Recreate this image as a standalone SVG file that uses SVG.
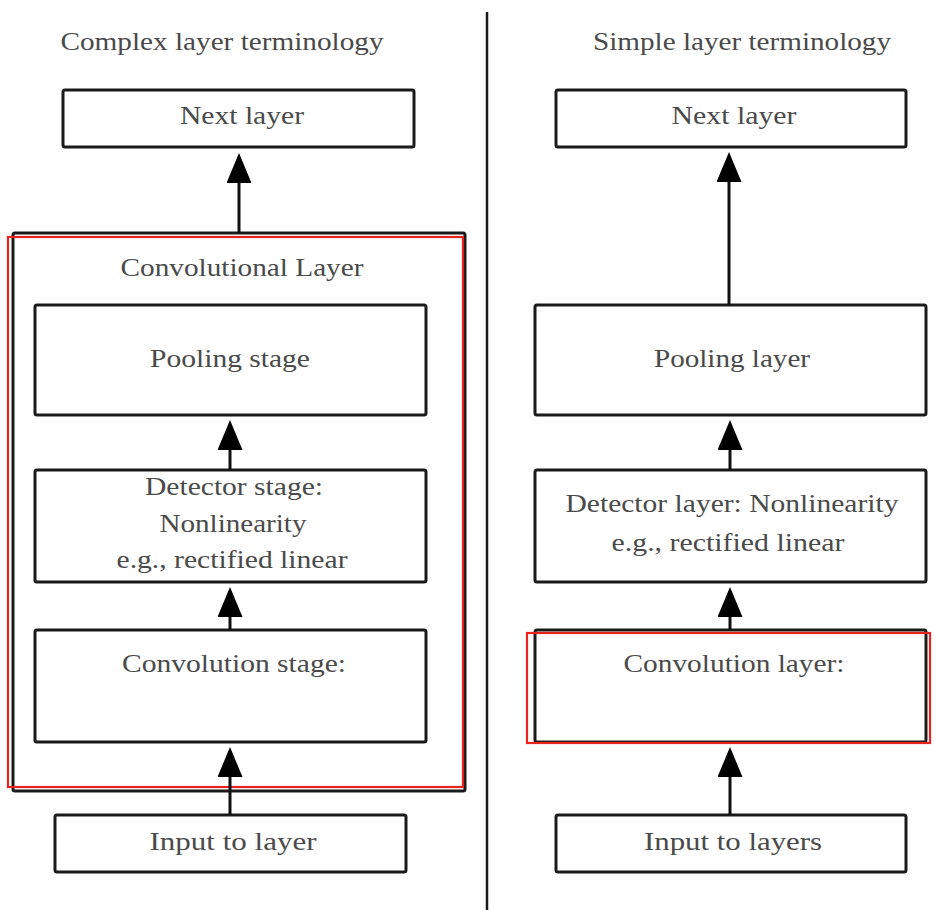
<svg xmlns="http://www.w3.org/2000/svg" width="936" height="910" viewBox="0 0 936 910">
<style>
.box{fill:#fff;stroke:#1a1a1a;stroke-width:3}
.red{fill:none;stroke:#e8231e;stroke-width:2.2}
.t{font-family:"Liberation Serif","DejaVu Serif",serif;font-size:26px;fill:#4a4a4a;text-anchor:middle}
.c{stroke:#111;stroke-width:3;fill:none;marker-end:url(#ah)}
</style>
<defs>
<marker id="ah" markerUnits="userSpaceOnUse" markerWidth="32" markerHeight="26" refX="24" refY="12.5" orient="auto">
<path d="M0,0 L30,12.5 L0,25 z" fill="#000"/>
</marker>
</defs>
<rect width="936" height="910" fill="#fff"/>
<line x1="487" y1="12" x2="487" y2="910" stroke="#1a1a1a" stroke-width="2.5"/>
<text class="t" x="222" y="50" textLength="323" lengthAdjust="spacingAndGlyphs">Complex layer terminology</text>
<text class="t" x="742" y="50" textLength="298" lengthAdjust="spacingAndGlyphs">Simple layer terminology</text>

<g id="conv-layer-group">
<rect class="box" x="13" y="233" width="452" height="558" rx="2"/>
<text class="t" x="242" y="276" textLength="243" lengthAdjust="spacingAndGlyphs">Convolutional Layer</text>
<rect class="red" x="8" y="237" width="455" height="550"/>
</g>

<g id="next-left">
<rect class="box" x="63" y="90" width="351" height="57" rx="2"/>
<text class="t" x="242" y="124" textLength="124" lengthAdjust="spacingAndGlyphs">Next layer</text>
</g>
<g id="pooling-stage">
<rect class="box" x="35" y="305" width="391" height="110" rx="2"/>
<text class="t" x="230" y="367" textLength="160" lengthAdjust="spacingAndGlyphs">Pooling stage</text>
</g>
<g id="detector-stage">
<rect class="box" x="35" y="470" width="391" height="112" rx="2"/>
<text class="t" x="234" y="495" textLength="178" lengthAdjust="spacingAndGlyphs">Detector stage:</text>
<text class="t" x="233" y="532" textLength="147" lengthAdjust="spacingAndGlyphs">Nonlinearity</text>
<text class="t" x="232" y="568" textLength="231" lengthAdjust="spacingAndGlyphs">e.g., rectified linear</text>
</g>
<g id="conv-stage">
<rect class="box" x="35" y="630" width="391" height="112" rx="2"/>
<text class="t" x="234" y="672" textLength="224" lengthAdjust="spacingAndGlyphs">Convolution stage:</text>
</g>
<g id="input-left">
<rect class="box" x="55" y="815" width="351" height="57" rx="2"/>
<text class="t" x="233" y="850" textLength="167" lengthAdjust="spacingAndGlyphs">Input to layer</text>
</g>

<g id="next-right">
<rect class="box" x="556" y="90" width="350" height="57" rx="2"/>
<text class="t" x="734" y="124" textLength="125" lengthAdjust="spacingAndGlyphs">Next layer</text>
</g>
<g id="pooling-layer">
<rect class="box" x="535" y="305" width="391" height="110" rx="2"/>
<text class="t" x="732" y="367" textLength="156" lengthAdjust="spacingAndGlyphs">Pooling layer</text>
</g>
<g id="detector-layer">
<rect class="box" x="535" y="470" width="391" height="112" rx="2"/>
<text class="t" x="732" y="512" textLength="333" lengthAdjust="spacingAndGlyphs">Detector layer: Nonlinearity</text>
<text class="t" x="728" y="551" textLength="233" lengthAdjust="spacingAndGlyphs">e.g., rectified linear</text>
</g>
<g id="conv-layer">
<rect class="box" x="535" y="630" width="391" height="112" rx="2"/>
<text class="t" x="734" y="672" textLength="221" lengthAdjust="spacingAndGlyphs">Convolution layer:</text>
<rect class="red" x="527" y="633" width="403" height="110"/>
</g>
<g id="input-right">
<rect class="box" x="556" y="815" width="350" height="57" rx="2"/>
<text class="t" x="733" y="850" textLength="178" lengthAdjust="spacingAndGlyphs">Input to layers</text>
</g>

<g id="connectors">
<line class="c" x1="239" y1="233" x2="239" y2="159"/>
<line class="c" x1="230" y1="470" x2="230" y2="426"/>
<line class="c" x1="230" y1="630" x2="230" y2="593"/>
<line class="c" x1="230" y1="815" x2="230" y2="753"/>
<line class="c" x1="729" y1="305" x2="729" y2="158"/>
<line class="c" x1="730" y1="470" x2="730" y2="426"/>
<line class="c" x1="730" y1="630" x2="730" y2="593"/>
<line class="c" x1="730" y1="815" x2="730" y2="753"/>
</g>
</svg>
